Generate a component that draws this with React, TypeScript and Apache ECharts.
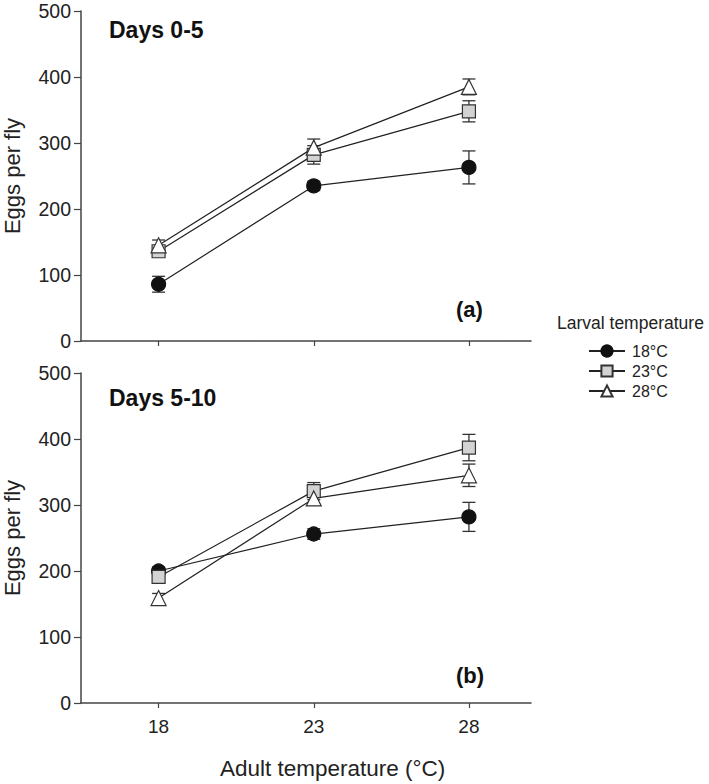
import React, { useEffect, useRef } from "react";
import * as echarts from "echarts";

const adultTemps = [18, 23, 28];
const larvalNames = ["18°C", "23°C", "28°C"];

// Panel (a) Days 0-5
const topMean18 = [86, 235, 263];
const topErr18 = [12, 7, 25];
const topMean23 = [136, 282, 348];
const topErr23 = [6, 14, 16];
const topMean28 = [145, 293, 385];
const topErr28 = [8, 13, 12];

// Panel (b) Days 5-10
const botMean18 = [200, 256, 282];
const botErr18 = [6, 8, 22];
const botMean23 = [191, 321, 387];
const botErr23 = [9, 13, 20];
const botMean28 = [159, 310, 345];
const botErr28 = [7, 8, 17];

const FONT = "'Liberation Sans', Arial, sans-serif";

const styles = [
  { symbol: "circle", size: 14, fill: "#111111", border: "#111111" },
  { symbol: "rect", size: 13, fill: "#d3d3d3", border: "#333333" },
  { symbol: "triangle", size: 15, fill: "#ffffff", border: "#333333" },
];

export default function App() {
  const ref = useRef<HTMLDivElement>(null);
  useEffect(() => {
    if (!ref.current) return;
    document.body.style.margin = "0";
    const chart = echarts.init(ref.current, undefined, { renderer: "svg" });

    const grids = [
      { left: 81, top: 11, width: 450, height: 330, outerBoundsMode: "none", containLabel: false },
      { left: 81, top: 373, width: 450, height: 330, outerBoundsMode: "none", containLabel: false },
    ];

    const xAxes = [0, 1].map((i) => ({
      type: "value",
      gridIndex: i,
      min: 15.5,
      max: 30,
      axisLine: { show: true, lineStyle: { color: "#444", width: 1.5 } },
      axisTick: {
        show: true,
        customValues: adultTemps,
        length: 5,
        lineStyle: { color: "#444", width: 1.2 },
      },
      axisLabel: {
        show: i === 1,
        customValues: adultTemps,
        margin: 14,
        fontSize: 19,
        fontFamily: FONT,
        color: "#222",
      },
      splitLine: { show: false },
    }));

    const yAxes = [0, 1].map((i) => ({
      type: "value",
      gridIndex: i,
      min: 0,
      max: 500,
      interval: 100,
      name: "Eggs per fly",
      nameLocation: "middle",
      nameGap: 58,
      nameTextStyle: { fontSize: 22, fontFamily: FONT, color: "#222" },
      axisLine: { show: true, lineStyle: { color: "#444", width: 1.5 } },
      axisTick: { show: true, length: 7, lineStyle: { color: "#444", width: 1.2 } },
      axisLabel: { margin: 10, fontSize: 19.5, fontFamily: FONT, color: "#222" },
      splitLine: { show: false },
    }));

    const panels = [
      { means: [topMean18, topMean23, topMean28], errs: [topErr18, topErr23, topErr28] },
      { means: [botMean18, botMean23, botMean28], errs: [botErr18, botErr23, botErr28] },
    ];

    const series: any[] = [];
    panels.forEach((p, gi) => {
      p.means.forEach((m, si) => {
        const e = p.errs[si];
        series.push({
          type: "custom",
          xAxisIndex: gi,
          yAxisIndex: gi,
          z: 1,
          silent: true,
          data: adultTemps.map((x, k) => [x, m[k] - e[k], m[k] + e[k]]),
          renderItem: (params: any, api: any) => {
            const x = api.value(0);
            const lo = api.coord([x, api.value(1)]);
            const hi = api.coord([x, api.value(2)]);
            const hw = 6.5;
            const st = { stroke: "#333", lineWidth: 1.3 };
            return {
              type: "group",
              children: [
                { type: "line", shape: { x1: lo[0], y1: lo[1], x2: hi[0], y2: hi[1] }, style: st },
                { type: "line", shape: { x1: hi[0] - hw, y1: hi[1], x2: hi[0] + hw, y2: hi[1] }, style: st },
                { type: "line", shape: { x1: lo[0] - hw, y1: lo[1], x2: lo[0] + hw, y2: lo[1] }, style: st },
              ],
            };
          },
        });
        const s = styles[si];
        series.push({
          type: "line",
          name: larvalNames[si],
          xAxisIndex: gi,
          yAxisIndex: gi,
          z: 3,
          data: adultTemps.map((x, k) => [x, m[k]]),
          symbol: s.symbol,
          symbolSize: s.size,
          lineStyle: { color: "#222", width: 1.2 },
          itemStyle: { color: s.fill, borderColor: s.border, borderWidth: 1.2, opacity: 1 },
          emphasis: { disabled: true },
        });
      });
    });

    chart.setOption({
      animation: false,
      backgroundColor: "#ffffff",
      grid: grids,
      xAxis: xAxes,
      yAxis: yAxes,
      series,
      legend: {
        orient: "vertical",
        left: 588,
        top: 343,
        padding: 0,
        itemGap: 4,
        itemWidth: 36,
        itemHeight: 14,
        data: larvalNames,
        selectedMode: false,
        textStyle: { fontSize: 16, fontFamily: FONT, color: "#222", padding: [0, 0, 0, 2] },
      },
      graphic: [
        {
          type: "text",
          left: 109,
          top: 18,
          style: { text: "Days 0-5", fontSize: 23, fontWeight: "bold", fontFamily: FONT, fill: "#111" },
        },
        {
          type: "text",
          left: 109,
          top: 386,
          style: { text: "Days 5-10", fontSize: 23, fontWeight: "bold", fontFamily: FONT, fill: "#111" },
        },
        {
          type: "text",
          left: 456,
          top: 298,
          style: { text: "(a)", fontSize: 22, fontWeight: "bold", fontFamily: FONT, fill: "#111" },
        },
        {
          type: "text",
          left: 456,
          top: 664,
          style: { text: "(b)", fontSize: 22, fontWeight: "bold", fontFamily: FONT, fill: "#111" },
        },
        {
          type: "text",
          left: 557,
          top: 314,
          style: { text: "Larval temperature", fontSize: 17.5, fontFamily: FONT, fill: "#222" },
        },
        {
          type: "text",
          left: 220,
          top: 757,
          style: { text: "Adult temperature (°C)", fontSize: 22.5, fontFamily: FONT, fill: "#222" },
        },
      ],
    });
    return () => chart.dispose();
  }, []);
  return <div ref={ref} style={{ width: 709, height: 784 }} />;
}
